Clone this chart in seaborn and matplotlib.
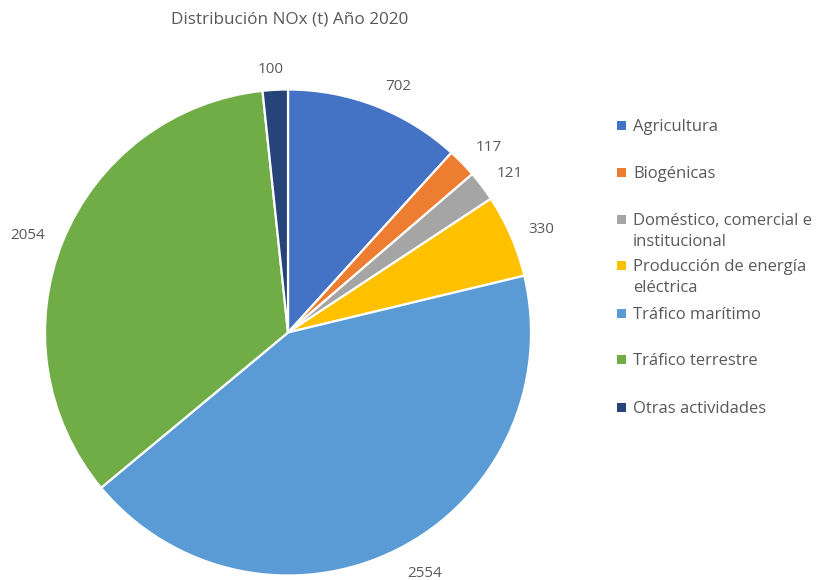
import matplotlib
matplotlib.use("Agg")
import matplotlib.pyplot as plt
import numpy as np
import seaborn as sns

# NOx emissions by sector, 2020 (tonnes)
categories = [
    "Agricultura",
    "Biogénicas",
    "Doméstico, comercial e\ninstitucional",
    "Producción de energía\neléctrica",
    "Tráfico marítimo",
    "Tráfico terrestre",
    "Otras actividades",
]
values = [702, 117, 121, 330, 2554, 2054, 100]
colors = ["#4472C4", "#ED7D31", "#A5A5A5", "#FFC000", "#5B9BD5", "#70AD47", "#264478"]
title = "Distribución NOx (t) Año 2020"

# value-label placement: distance from centre (in radii) and angular nudge
# (degrees, clockwise) from each wedge's mid-angle
label_dist = [1.118, 1.131, 1.127, 1.128, 1.131, 1.146, 1.091]
label_turn = [2.8, 1.2, 1.1, 0.9, -3.1, -1.2, -0.7]

sns.set_theme(style="white")
plt.rcParams["font.family"] = ["Open Sans", "DejaVu Sans"]
text_color = "#595959"

W, H = 817, 580
fig = plt.figure(figsize=(W / 100, H / 100), dpi=100)

# pie area: centre (288, 332.5) px, radius 243 px
cx, cy, r = 288, 332.5, 243
ax = fig.add_axes([(cx - r) / W, (H - cy - r) / H, 2 * r / W, 2 * r / H])

wedges, _ = ax.pie(
    values,
    colors=colors,
    startangle=90,
    counterclock=False,
    radius=1.0,
    wedgeprops=dict(edgecolor="white", linewidth=1.6),
)
ax.set_xlim(-1, 1)
ax.set_ylim(-1, 1)
ax.set_aspect("equal")
ax.axis("off")

# value labels outside each wedge
for w, v, d, turn in zip(wedges, values, label_dist, label_turn):
    ang = np.deg2rad((w.theta1 + w.theta2) / 2 - turn)
    ax.text(d * np.cos(ang), d * np.sin(ang), str(v), ha="center",
            va="center_baseline", color=text_color, fontsize=11, clip_on=False)

fig.text(290 / W, 1 - 20 / H, title, ha="center", va="center",
         color=text_color, fontsize=12.3)

# legend entries laid out in fixed slots
slot_y = [125, 172, 219, 265, 313, 359, 407]
for y, lab, col in zip(slot_y, categories, colors):
    sq = 9
    fig.add_artist(plt.Rectangle(((621 - sq / 2) / W, 1 - (y + sq / 2) / H), sq / W, sq / H,
                                 transform=fig.transFigure, color=col, lw=0))
    fig.text(633 / W, 1 - (y - 6) / H, lab, ha="left", va="top",
             color=text_color, fontsize=12, linespacing=1.4)

fig.savefig("out.png", dpi=100)
